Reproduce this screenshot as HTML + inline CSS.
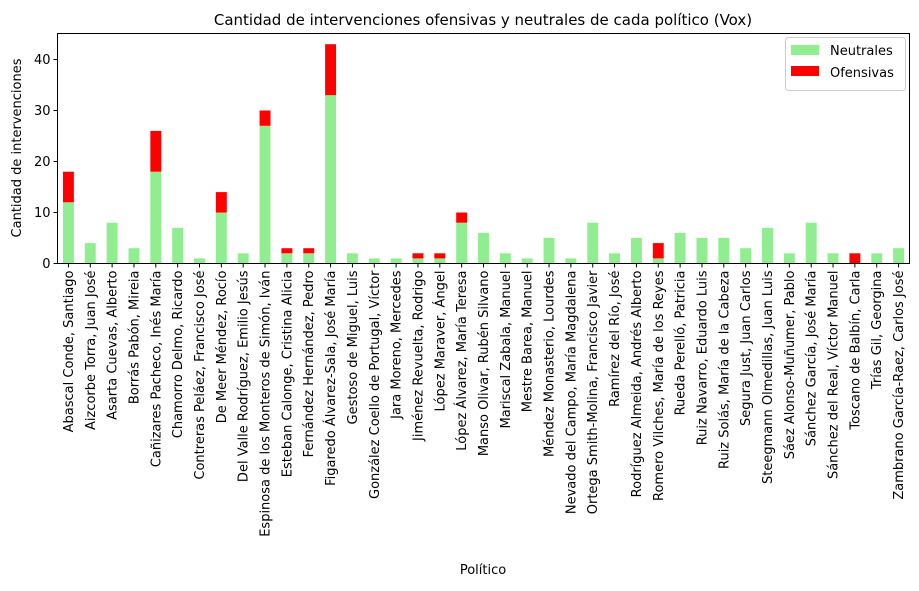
<!DOCTYPE html>
<html><head><meta charset="utf-8"><style>
body{margin:0;background:#fff;font-family:"Liberation Sans","DejaVu Sans",sans-serif;}
svg text{font-family:"DejaVu Sans","Liberation Sans",sans-serif;}
</style></head><body>
<svg id="chart" width="919" height="586" xmlns="http://www.w3.org/2000/svg">
<text x="483" y="25" text-anchor="middle" font-size="15">Cantidad de intervenciones ofensivas y neutrales de cada político (Vox)</text>
<g id="bars"></g><g id="xticks"></g><g id="yticks"></g>
<rect x="57.5" y="33.5" width="852" height="230" fill="none" stroke="#000" stroke-width="1"/>
<text transform="translate(21,148) rotate(-90)" text-anchor="middle" font-size="13">Cantidad de intervenciones</text>
<text x="483" y="574" text-anchor="middle" font-size="13">Político</text>
<g>
<rect x="785.5" y="37.5" width="120" height="53" rx="3" fill="#fff" stroke="#ccc"/>
<rect x="791" y="45" width="28" height="10" fill="#90ee90"/>
<text x="830" y="55" font-size="13">Neutrales</text>
<rect x="791" y="66" width="28" height="10" fill="#ff0000"/>
<text x="830" y="77" font-size="13">Ofensivas</text>
</g>
</svg>
<script>
const categories=["Abascal Conde, Santiago","Aizcorbe Torra, Juan José","Asarta Cuevas, Alberto","Borrás Pabón, Mireia","Cañizares Pacheco, Inés María","Chamorro Delmo, Ricardo","Contreras Peláez, Francisco José","De Meer Méndez, Rocío","Del Valle Rodríguez, Emilio Jesús","Espinosa de los Monteros de Simón, Iván","Esteban Calonge, Cristina Alicia","Fernández Hernández, Pedro","Figaredo Álvarez-Sala, José María","Gestoso de Miguel, Luis","González Coello de Portugal, Víctor","Jara Moreno, Mercedes","Jiménez Revuelta, Rodrigo","López Maraver, Ángel","López Álvarez, María Teresa","Manso Olivar, Rubén Silvano","Mariscal Zabala, Manuel","Mestre Barea, Manuel","Méndez Monasterio, Lourdes","Nevado del Campo, María Magdalena","Ortega Smith-Molina, Francisco Javier","Ramírez del Río, José","Rodríguez Almeida, Andrés Alberto","Romero Vilches, María de los Reyes","Rueda Perelló, Patricia","Ruiz Navarro, Eduardo Luis","Ruiz Solás, María de la Cabeza","Segura Just, Juan Carlos","Steegmann Olmedillas, Juan Luis","Sáez Alonso-Muñumer, Pablo","Sánchez García, José María","Sánchez del Real, Víctor Manuel","Toscano de Balbín, Carla","Trías Gil, Georgina","Zambrano García-Raez, Carlos José"];
const neutrales=[12,4,8,3,18,7,1,10,2,27,2,2,33,2,1,1,1,1,8,6,2,1,5,1,8,2,5,1,6,5,5,3,7,2,8,2,0,2,3];
const ofensivas=[6,0,0,0,8,0,0,4,0,3,1,1,10,0,0,0,1,1,2,0,0,0,0,0,0,0,0,3,0,0,0,0,0,0,0,0,2,0,0];
const yTicks=[0,10,20,30,40];
const NS="http://www.w3.org/2000/svg";
const L=57.5,R=909.5,T=33.5,B=263.5,YMAX=45.1;
const step=(R-L)/categories.length;
const xc=i=>L+step*(i+0.5);
const y=v=>B-v/YMAX*(B-T);
const bw=step*0.5;
function mk(t,a,p){const e=document.createElementNS(NS,t);for(const k in a)e.setAttribute(k,a[k]);p.appendChild(e);return e;}
const gb=document.getElementById('bars'),gx=document.getElementById('xticks'),gy=document.getElementById('yticks');
categories.forEach((c,i)=>{
 const n=neutrales[i],o=ofensivas[i];
 if(n>0){const r=mk('rect',{x:xc(i)-bw/2,y:y(n),width:bw,height:y(0)-y(n),fill:'#90ee90'},gb);
 
 }
 if(o>0){const r=mk('rect',{x:xc(i)-bw/2,y:y(n+o),width:bw,height:y(n)-y(n+o),fill:'#ff0000'},gb);
 
 }
 const tk=mk('line',{x1:xc(i),x2:xc(i),y1:B,y2:B+4,stroke:'#000'},gx);
 
 
 const t=mk('text',{transform:`translate(${xc(i)+4.5},${B+7}) rotate(-90)`,'text-anchor':'end','font-size':'13'},gx);
 
 
 t.textContent=c;
});
yTicks.forEach(v=>{
 const l=mk('line',{x1:L-4,x2:L,y1:y(v),y2:y(v),stroke:'#000'},gy);
 
 
 const t=mk('text',{x:L-7,y:y(v)+4.5,'text-anchor':'end','font-size':'13'},gy);
 
 
 t.textContent=v;
});
</script>
</body></html>
